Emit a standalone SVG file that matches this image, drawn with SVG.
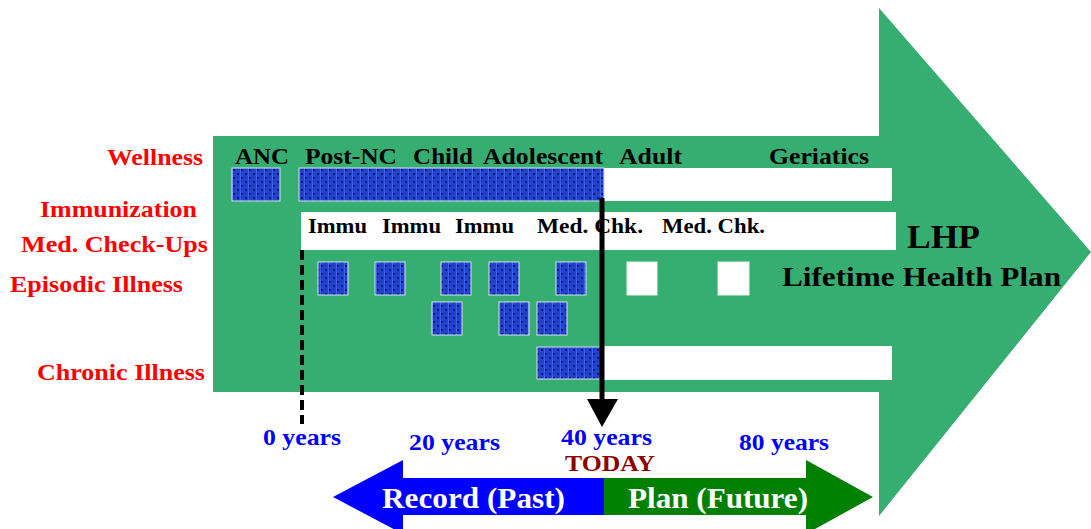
<svg xmlns="http://www.w3.org/2000/svg" width="1091" height="529" viewBox="0 0 1091 529">
<defs>
<pattern id="tex" width="8" height="8" patternUnits="userSpaceOnUse">
<rect width="8" height="8" fill="#2244D0"/>
<rect x="1" y="1" width="2" height="2" fill="#0E1C70"/>
<rect x="5" y="5" width="2" height="2" fill="#0E1C70"/>
<rect x="5" y="1" width="1" height="1" fill="#13247E"/>
<rect x="1" y="5" width="1" height="1" fill="#13247E"/>
<rect x="0" y="0" width="1" height="8" fill="#3B62F0"/>
</pattern>
</defs>
<style>
.red{font-family:"Liberation Serif",serif;font-weight:bold;font-size:24px;fill:#FF0000}
.hdr{font-family:"Liberation Serif",serif;font-weight:bold;font-size:23px;fill:#000}
.imm{font-family:"Liberation Serif",serif;font-weight:bold;font-size:20px;fill:#000}
.yrs{font-family:"Liberation Serif",serif;font-weight:bold;font-size:23px;fill:#0000FF}
.big{font-family:"Liberation Serif",serif;font-weight:bold;fill:#000}
.wbar{fill:#FFFFFF}
.blue{fill:url(#tex);stroke:#D8E0F0;stroke-width:1}
.wsq{fill:#FFFFFF;stroke:#E8F0E8;stroke-width:1}
</style>
<g id="main-arrow">
<polygon points="213,136 879,136 879,8 1091,252 879,516 879,392 213,392" fill="#36AE72"/>
</g>
<g id="row-labels">
<text class="red" x="107" y="165" textLength="96" lengthAdjust="spacingAndGlyphs">Wellness</text>
<text class="red" x="40" y="217" textLength="157" lengthAdjust="spacingAndGlyphs">Immunization</text>
<text class="red" x="21" y="252" textLength="187" lengthAdjust="spacingAndGlyphs">Med. Check-Ups</text>
<text class="red" x="10" y="292" textLength="173" lengthAdjust="spacingAndGlyphs">Episodic Illness</text>
<text class="red" x="37" y="380" textLength="168" lengthAdjust="spacingAndGlyphs">Chronic Illness</text>
</g>
<g id="stage-labels">
<text class="hdr" x="235" y="164" textLength="54" lengthAdjust="spacingAndGlyphs">ANC</text>
<text class="hdr" x="305" y="164" textLength="92" lengthAdjust="spacingAndGlyphs">Post-NC</text>
<text class="hdr" x="413" y="164" textLength="60" lengthAdjust="spacingAndGlyphs">Child</text>
<text class="hdr" x="483" y="164" textLength="120" lengthAdjust="spacingAndGlyphs">Adolescent</text>
<text class="hdr" x="619" y="164" textLength="63" lengthAdjust="spacingAndGlyphs">Adult</text>
<text class="hdr" x="769" y="164" textLength="100" lengthAdjust="spacingAndGlyphs">Geriatics</text>
</g>
<g id="wellness-row">
<rect class="wbar" x="603" y="168" width="289" height="33"/>
<rect class="blue" x="232" y="168" width="48" height="33"/>
<rect class="blue" x="299" y="168" width="305" height="33"/>
</g>
<g id="immunization-row">
<rect class="wbar" x="301" y="212" width="595" height="38"/>
<text class="imm" x="308" y="233" textLength="59" lengthAdjust="spacingAndGlyphs">Immu</text>
<text class="imm" x="382" y="233" textLength="59" lengthAdjust="spacingAndGlyphs">Immu</text>
<text class="imm" x="455" y="233" textLength="59" lengthAdjust="spacingAndGlyphs">Immu</text>
<text class="imm" x="537" y="233" textLength="106" lengthAdjust="spacingAndGlyphs">Med. Chk.</text>
<text class="imm" x="662" y="233" textLength="103" lengthAdjust="spacingAndGlyphs">Med. Chk.</text>
</g>
<g id="episodic-row">
<rect class="blue" x="318" y="262" width="30" height="33"/>
<rect class="blue" x="375" y="262" width="30" height="33"/>
<rect class="blue" x="441" y="262" width="30" height="33"/>
<rect class="blue" x="489" y="262" width="30" height="33"/>
<rect class="blue" x="556" y="262" width="30" height="33"/>
<rect class="wsq" x="627" y="262" width="30" height="33"/>
<rect class="wsq" x="718" y="262" width="31" height="33"/>
<rect class="blue" x="432" y="302" width="30" height="33"/>
<rect class="blue" x="499" y="302" width="30" height="33"/>
<rect class="blue" x="537" y="302" width="30" height="33"/>
</g>
<g id="chronic-row">
<rect class="wbar" x="600" y="346" width="292" height="34"/>
<rect class="blue" x="537" y="347" width="64" height="32"/>
</g>
<g id="lhp">
<text class="big" x="907" y="248" font-size="33" textLength="73" lengthAdjust="spacingAndGlyphs">LHP</text>
<text class="big" x="782" y="286" font-size="28" textLength="279" lengthAdjust="spacingAndGlyphs">Lifetime Health Plan</text>
</g>
<g id="connectors">
<line x1="302" y1="250" x2="302" y2="424" stroke="#000" stroke-width="4" stroke-dasharray="10 5"/>
<line x1="602" y1="198" x2="602" y2="402" stroke="#000" stroke-width="5"/>
<polygon points="587,399 618,399 602,427" fill="#000"/>
</g>
<g id="year-labels">
<text class="yrs" x="263" y="445" textLength="78" lengthAdjust="spacingAndGlyphs">0 years</text>
<text class="yrs" x="409" y="450" textLength="91" lengthAdjust="spacingAndGlyphs">20 years</text>
<text class="yrs" x="561" y="445" textLength="91" lengthAdjust="spacingAndGlyphs">40 years</text>
<text class="yrs" x="739" y="450" textLength="90" lengthAdjust="spacingAndGlyphs">80 years</text>
<text class="big" x="565" y="471" font-size="24" style="fill:#8B0000" textLength="90" lengthAdjust="spacingAndGlyphs">TODAY</text>
</g>
<g id="timeline-arrow">
<polygon points="333,497 403,460 403,478 604,478 604,515 403,515 403,534" fill="#0000FF"/>
<polygon points="604,478 806,478 806,460 873,497 806,534 806,515 604,515" fill="#008000"/>
<text class="big" x="382" y="508" font-size="30" style="fill:#FFFFFF" textLength="183" lengthAdjust="spacingAndGlyphs">Record (Past)</text>
<text class="big" x="628" y="508" font-size="30" style="fill:#FFFFFF" textLength="180" lengthAdjust="spacingAndGlyphs">Plan (Future)</text>
</g>
</svg>
